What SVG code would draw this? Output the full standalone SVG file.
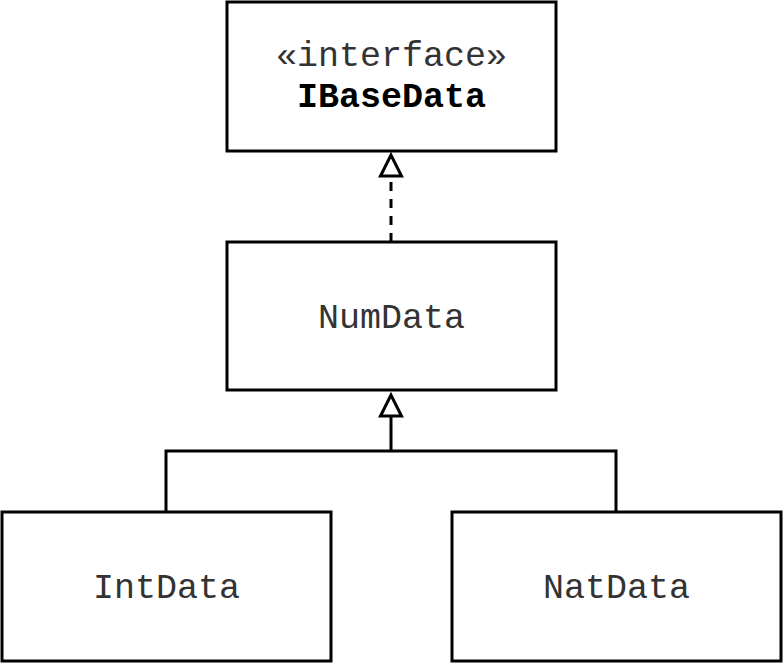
<svg xmlns="http://www.w3.org/2000/svg" width="783" height="663" viewBox="0 0 783 663">
<style>
.box{fill:#fff;stroke:#000;stroke-width:3}
.t{font-family:"Liberation Mono","Courier New",monospace;font-size:35px;fill:#333;text-anchor:middle}
.b{font-weight:bold;fill:#000}
.c{fill:none;stroke:#000;stroke-width:3}
.tri{fill:#fff;stroke:#000;stroke-width:3}
</style>
<rect width="783" height="663" fill="#fff"/>
<g id="connectors">
<path class="c" d="M391 242V176" stroke-dasharray="9,8"/>
<polygon class="tri" points="391,155 380.5,176 401.5,176"/>
<path class="c" d="M391 417V451M166 512V451H616V512"/>
<polygon class="tri" points="391,395 380.5,416 401.5,416"/>
</g>
<g id="IBaseData">
<rect class="box" x="227" y="2" width="329" height="149"/>
<text class="t" x="391.5" y="66">«interface»</text>
<text class="t b" x="391.5" y="107">IBaseData</text>
</g>
<g id="NumData">
<rect class="box" x="227" y="242" width="329" height="148"/>
<text class="t" x="391.5" y="328">NumData</text>
</g>
<g id="IntData">
<rect class="box" x="2" y="512" width="329" height="149"/>
<text class="t" x="166.5" y="598">IntData</text>
</g>
<g id="NatData">
<rect class="box" x="452" y="512" width="329" height="149"/>
<text class="t" x="616.5" y="598">NatData</text>
</g>
</svg>
